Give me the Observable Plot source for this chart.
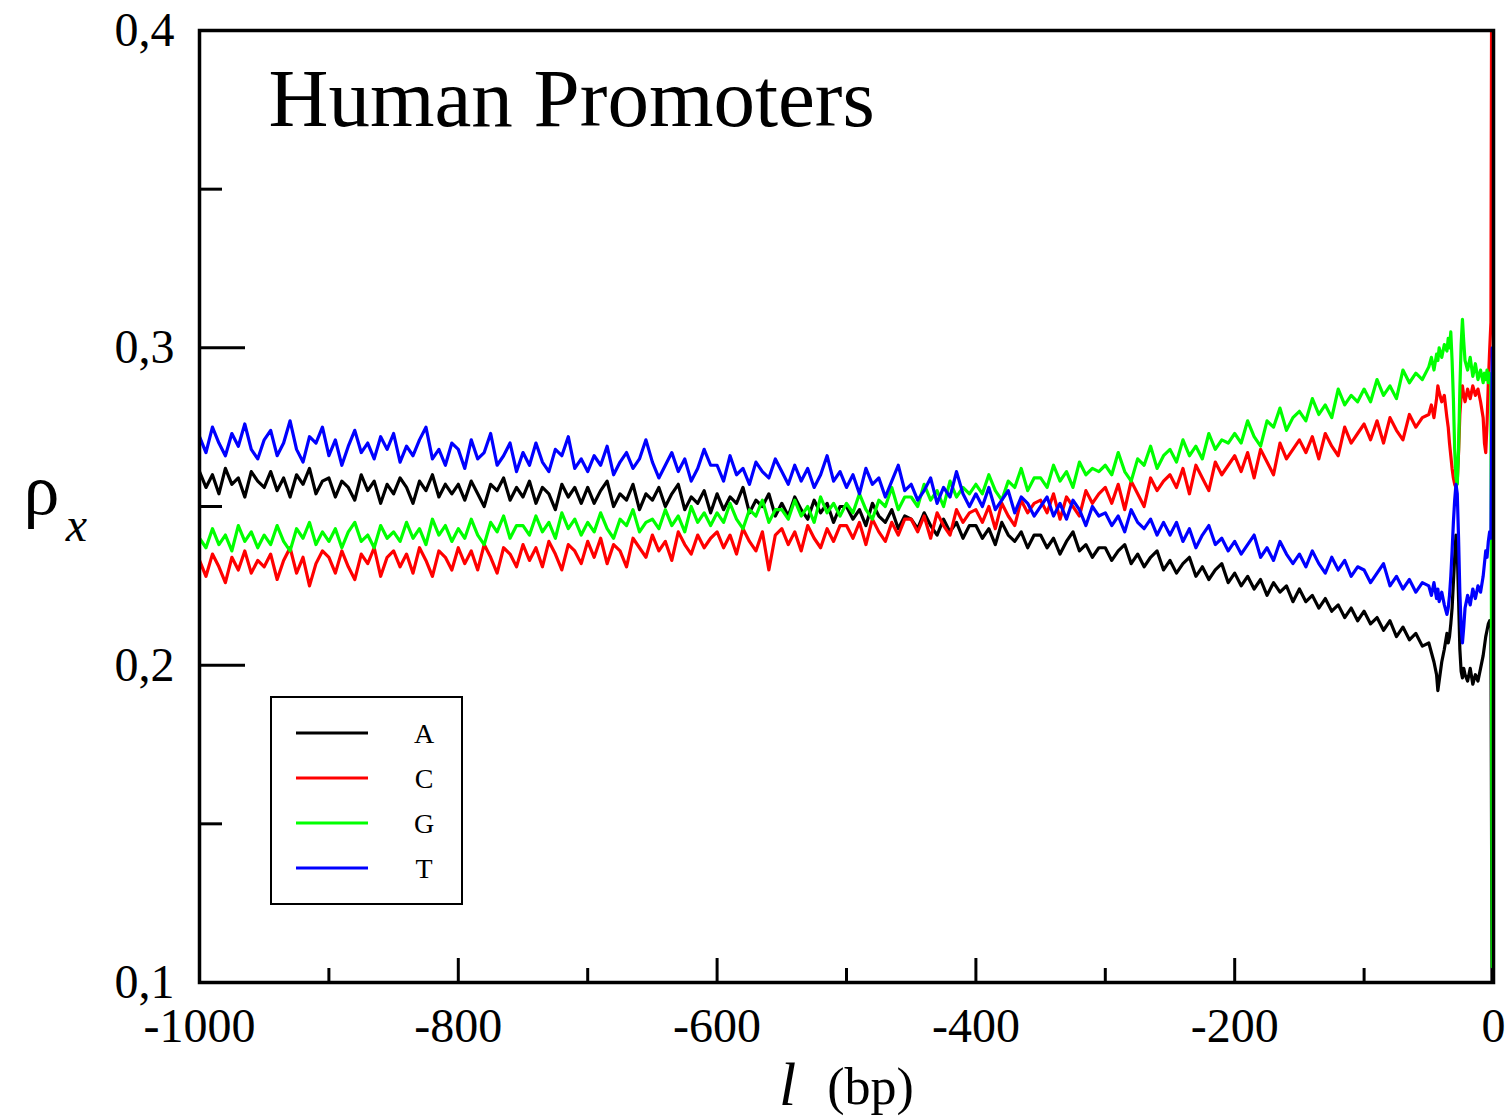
<!DOCTYPE html>
<html><head><meta charset="utf-8">
<script src="https://cdn.jsdelivr.net/npm/d3@7"></script>
<script src="https://cdn.jsdelivr.net/npm/@observablehq/plot@0.6"></script>
<style>
body{margin:0;background:#fff}
#wrap{position:relative;width:1507px;height:1119px;overflow:hidden}
#legend{position:absolute;left:0;top:0}
</style>
</head><body><div id="wrap"></div>
<script>
// ---------- data ----------
const bases = ["A", "C", "G", "T"];
const colors = ["#000000", "#ff0000", "#00ff00", "#0000ff"];
const title = "Human Promoters";
const yMajor = [0.1, 0.2, 0.3, 0.4];
const yMinor = [0.15, 0.25, 0.35];
const xMajor = [-1000, -800, -600, -400, -200, 0];
const xMinor = [-900, -700, -500, -300, -100];

// positions l (bp): every 5 bp from -1000 to -55, then the region near the TSS
const bulkPositions = d3.range(-1000, -50, 5);
const tailPositions = [-50,-48,-46,-44,-43,-42,-40,-38,-36,-35,-34,-33,-32,-31,-30,-29,-28,-27,-26,-25,-24,-23,-22,-20,-18,-16,-14,-12,-10,-8,-7,-6,-5,-4,-3,-2,-1];

const A_bulk = [
0.261,0.256,0.260,0.254,0.262,0.257,0.259,0.253,0.261,0.258,
0.256,0.261,0.255,0.259,0.253,0.260,0.257,0.262,0.254,0.258,
0.259,0.253,0.258,0.256,0.252,0.260,0.255,0.258,0.251,0.257,
0.254,0.259,0.256,0.251,0.258,0.255,0.260,0.253,0.257,0.254,
0.257,0.252,0.258,0.254,0.250,0.257,0.255,0.259,0.252,0.256,
0.253,0.258,0.251,0.256,0.254,0.249,0.257,0.253,0.256,0.251,
0.256,0.251,0.255,0.258,0.250,0.254,0.252,0.257,0.249,0.254,
0.252,0.256,0.250,0.254,0.257,0.249,0.253,0.251,0.255,0.248,
0.254,0.249,0.253,0.251,0.256,0.248,0.252,0.250,0.254,0.247,
0.251,0.247,0.253,0.249,0.246,0.252,0.248,0.251,0.245,0.250,
0.250,0.246,0.249,0.244,0.251,0.247,0.245,0.249,0.243,0.247,
0.246,0.243,0.248,0.244,0.241,0.246,0.242,0.245,0.240,0.244,
0.244,0.240,0.243,0.238,0.245,0.241,0.239,0.242,0.237,0.241,
0.241,0.237,0.240,0.235,0.239,0.242,0.236,0.238,0.234,0.237,
0.237,0.233,0.236,0.238,0.232,0.235,0.231,0.234,0.236,0.230,
0.233,0.229,0.232,0.234,0.228,0.231,0.227,0.230,0.232,0.226,
0.229,0.225,0.228,0.224,0.227,0.222,0.226,0.223,0.225,0.220,
0.224,0.220,0.222,0.218,0.221,0.217,0.219,0.215,0.218,0.214,
0.217,0.213,0.215,0.211,0.214,0.209,0.212,0.208,0.210,0.206];
const A_tail = [0.207,0.204,0.201,0.197,0.192,0.195,0.201,0.205,0.210,0.207,0.209,0.213,0.218,0.226,0.234,0.241,0.236,0.221,0.205,0.198,0.196,0.199,0.197,0.195,0.199,0.194,0.197,0.195,0.199,0.203,0.206,0.209,0.211,0.213,0.214,0.212,0.08];

const C_bulk = [
0.233,0.228,0.235,0.231,0.226,0.234,0.230,0.236,0.229,0.233,
0.231,0.235,0.227,0.233,0.237,0.229,0.234,0.225,0.232,0.236,
0.234,0.229,0.236,0.231,0.227,0.235,0.232,0.237,0.228,0.234,
0.236,0.231,0.235,0.229,0.237,0.233,0.228,0.236,0.234,0.230,
0.237,0.232,0.236,0.230,0.238,0.234,0.229,0.237,0.235,0.231,
0.238,0.233,0.237,0.231,0.239,0.235,0.230,0.238,0.236,0.232,
0.239,0.234,0.240,0.232,0.238,0.236,0.231,0.240,0.237,0.234,
0.241,0.236,0.239,0.233,0.242,0.238,0.235,0.241,0.237,0.240,
0.242,0.237,0.241,0.235,0.243,0.239,0.236,0.242,0.230,0.241,
0.243,0.238,0.242,0.236,0.244,0.240,0.237,0.243,0.239,0.244,
0.244,0.240,0.245,0.238,0.246,0.242,0.239,0.245,0.241,0.246,
0.246,0.242,0.247,0.240,0.248,0.244,0.241,0.249,0.245,0.248,
0.249,0.245,0.250,0.243,0.251,0.247,0.244,0.252,0.248,0.251,
0.252,0.248,0.254,0.246,0.253,0.250,0.247,0.255,0.251,0.254,
0.256,0.251,0.257,0.249,0.258,0.254,0.250,0.259,0.255,0.258,
0.260,0.256,0.262,0.254,0.263,0.259,0.255,0.264,0.260,0.263,
0.266,0.261,0.267,0.259,0.268,0.264,0.260,0.270,0.265,0.268,
0.271,0.267,0.272,0.265,0.273,0.269,0.266,0.275,0.270,0.273,
0.276,0.271,0.277,0.270,0.278,0.274,0.271,0.279,0.275,0.278];
const C_tail = [0.279,0.282,0.278,0.284,0.288,0.286,0.283,0.285,0.278,0.275,0.270,0.266,0.262,0.259,0.257,0.256,0.258,0.267,0.279,0.285,0.288,0.285,0.283,0.287,0.284,0.288,0.285,0.287,0.283,0.278,0.270,0.267,0.276,0.289,0.299,0.308,0.5];

const G_bulk = [
0.240,0.237,0.243,0.238,0.241,0.236,0.244,0.239,0.242,0.237,
0.241,0.238,0.244,0.239,0.236,0.243,0.240,0.245,0.238,0.242,
0.239,0.243,0.237,0.242,0.245,0.239,0.241,0.237,0.244,0.240,
0.242,0.239,0.245,0.240,0.243,0.238,0.246,0.241,0.244,0.239,
0.243,0.240,0.246,0.241,0.238,0.245,0.242,0.247,0.240,0.244,
0.244,0.241,0.247,0.242,0.245,0.240,0.248,0.243,0.246,0.241,
0.245,0.242,0.248,0.243,0.240,0.246,0.244,0.249,0.242,0.245,
0.246,0.243,0.249,0.244,0.247,0.242,0.250,0.245,0.248,0.244,
0.248,0.245,0.251,0.246,0.243,0.249,0.247,0.252,0.245,0.249,
0.249,0.246,0.252,0.247,0.250,0.245,0.253,0.248,0.251,0.247,
0.251,0.248,0.254,0.249,0.246,0.252,0.250,0.256,0.249,0.253,
0.253,0.250,0.257,0.252,0.255,0.250,0.258,0.253,0.256,0.254,
0.257,0.254,0.260,0.255,0.252,0.258,0.256,0.262,0.255,0.259,
0.259,0.256,0.263,0.258,0.261,0.256,0.264,0.260,0.262,0.261,
0.263,0.260,0.267,0.261,0.258,0.265,0.263,0.269,0.262,0.266,
0.268,0.264,0.271,0.266,0.269,0.265,0.273,0.268,0.271,0.270,
0.273,0.270,0.277,0.272,0.269,0.277,0.275,0.281,0.274,0.278,
0.280,0.277,0.284,0.279,0.282,0.278,0.287,0.282,0.285,0.283,
0.287,0.283,0.290,0.285,0.288,0.284,0.293,0.289,0.292,0.290];
const G_tail = [0.294,0.297,0.293,0.298,0.296,0.300,0.297,0.301,0.299,0.303,0.300,0.305,0.296,0.284,0.268,0.259,0.257,0.268,0.287,0.301,0.309,0.302,0.296,0.293,0.297,0.291,0.295,0.290,0.293,0.289,0.292,0.290,0.293,0.289,0.292,0.290,0.105];

const T_bulk = [
0.272,0.267,0.275,0.270,0.266,0.273,0.269,0.276,0.268,0.265,
0.271,0.274,0.266,0.270,0.277,0.268,0.264,0.272,0.270,0.275,
0.266,0.271,0.263,0.269,0.274,0.267,0.270,0.265,0.272,0.268,
0.273,0.264,0.269,0.266,0.271,0.275,0.265,0.268,0.263,0.270,
0.268,0.262,0.271,0.265,0.267,0.273,0.263,0.266,0.270,0.261,
0.267,0.263,0.270,0.264,0.261,0.268,0.266,0.272,0.262,0.265,
0.261,0.266,0.263,0.269,0.260,0.264,0.267,0.262,0.265,0.271,
0.264,0.259,0.263,0.267,0.261,0.265,0.258,0.262,0.268,0.263,
0.263,0.258,0.266,0.260,0.262,0.257,0.264,0.261,0.259,0.265,
0.261,0.257,0.263,0.258,0.262,0.256,0.260,0.266,0.258,0.261,
0.256,0.260,0.254,0.262,0.257,0.259,0.253,0.258,0.263,0.255,
0.257,0.252,0.255,0.259,0.251,0.256,0.253,0.261,0.254,0.250,
0.254,0.250,0.256,0.249,0.252,0.255,0.248,0.253,0.251,0.247,
0.250,0.253,0.247,0.251,0.246,0.252,0.249,0.244,0.250,0.247,
0.248,0.244,0.247,0.242,0.249,0.245,0.243,0.246,0.241,0.245,
0.241,0.245,0.239,0.243,0.237,0.241,0.244,0.238,0.240,0.236,
0.239,0.235,0.238,0.241,0.234,0.237,0.233,0.239,0.235,0.232,
0.235,0.231,0.236,0.232,0.229,0.234,0.230,0.233,0.228,0.231,
0.230,0.226,0.229,0.232,0.225,0.228,0.224,0.227,0.223,0.226];
const T_tail = [0.225,0.222,0.226,0.221,0.224,0.220,0.223,0.219,0.216,0.218,0.222,0.228,0.236,0.245,0.252,0.257,0.254,0.240,0.223,0.212,0.207,0.212,0.218,0.222,0.219,0.224,0.221,0.225,0.223,0.228,0.232,0.236,0.234,0.239,0.242,0.240,0.30];

// ---------- build table ----------
const series = {A: [A_bulk, A_tail], C: [C_bulk, C_tail], G: [G_bulk, G_tail], T: [T_bulk, T_tail]};
const positions = bulkPositions.concat(tailPositions);
const rows = [];
for (const b of bases) {
  const vals = series[b][0].concat(series[b][1]);
  positions.forEach((l, i) => rows.push({base: b, l, v: vals[i]}));
}

// ---------- layout ----------
const W = 1507, H = 1119, mL = 199, mR = 14, mT = 30, mB = 137;
const plotW = W - mL - mR, plotH = H - mT - mB;
const serif = "'Liberation Serif','Times New Roman',serif";

const chart = Plot.plot({
  width: W, height: H,
  marginLeft: mL, marginRight: mR, marginTop: mT, marginBottom: mB,
  style: {fontFamily: serif, background: "white", color: "black", overflow: "visible"},
  x: {domain: [-1000, 0]},
  y: {domain: [0.1, 0.4]},
  color: {domain: bases, range: colors},
  marks: [
    Plot.line(rows, {x: "l", y: "v", z: "base", stroke: "base", strokeWidth: 3.2, clip: true, strokeLinejoin: "round"}),
    Plot.tickY(yMajor, {y: d => d, insetRight: plotW - 46, strokeWidth: 3}),
    Plot.tickY(yMinor, {y: d => d, insetRight: plotW - 23, strokeWidth: 3}),
    Plot.tickX(xMajor, {x: d => d, insetTop: plotH - 24, strokeWidth: 3}),
    Plot.tickX(xMinor, {x: d => d, insetTop: plotH - 14, strokeWidth: 3}),
    Plot.axisY({ticks: yMajor, tickSize: 0, tickPadding: 25, label: null, fontSize: 48,
      tickFormat: d => d.toFixed(1).replace(".", ",")}),
    Plot.axisX({ticks: xMajor, tickSize: 0, tickPadding: 25, label: null, fontSize: 48,
      tickFormat: d => String(d)}),
    Plot.frame({stroke: "black", strokeWidth: 3.5}),
    Plot.text([title], {text: d => d, frameAnchor: "top-left", dx: 69, dy: 95, lineAnchor: "bottom", textAnchor: "start", fontSize: 83}),
    Plot.text(["ρ"], {text: d => d, frameAnchor: "left", dx: -158, dy: 7, lineAnchor: "bottom", textAnchor: "middle", fontSize: 72}),
    Plot.text(["x"], {text: d => d, frameAnchor: "left", dx: -123, dy: 34, lineAnchor: "bottom", textAnchor: "middle", fontSize: 48, fontStyle: "italic"}),
    Plot.text(["l"], {text: d => d, frameAnchor: "bottom", dx: -59, dy: 122, lineAnchor: "bottom", textAnchor: "middle", fontSize: 62, fontStyle: "italic"}),
    Plot.text(["(bp)"], {text: d => d, frameAnchor: "bottom", dx: 24, dy: 121, lineAnchor: "bottom", textAnchor: "middle", fontSize: 52})
  ]
});
const wrap = document.getElementById("wrap");
wrap.appendChild(chart);

// ---------- legend (overlay) ----------
const ns = "http://www.w3.org/2000/svg";
const lg = document.createElementNS(ns, "svg");
lg.setAttribute("id", "legend");
lg.setAttribute("width", W); lg.setAttribute("height", H);
lg.style.pointerEvents = "none";
const box = document.createElementNS(ns, "rect");
box.setAttribute("x", 271); box.setAttribute("y", 697);
box.setAttribute("width", 191); box.setAttribute("height", 207);
box.setAttribute("fill", "white"); box.setAttribute("stroke", "black"); box.setAttribute("stroke-width", 2);
lg.appendChild(box);
bases.forEach((b, i) => {
  const y = 733 + i * 45;
  const ln = document.createElementNS(ns, "line");
  ln.setAttribute("x1", 296); ln.setAttribute("x2", 368);
  ln.setAttribute("y1", y); ln.setAttribute("y2", y);
  ln.setAttribute("stroke", colors[i]); ln.setAttribute("stroke-width", 3.2);
  lg.appendChild(ln);
  const t = document.createElementNS(ns, "text");
  t.setAttribute("x", 424); t.setAttribute("y", y + 10);
  t.setAttribute("text-anchor", "middle");
  t.setAttribute("font-family", serif); t.setAttribute("font-size", 28);
  t.textContent = b;
  lg.appendChild(t);
});
wrap.appendChild(lg);
</script>
</body></html>
